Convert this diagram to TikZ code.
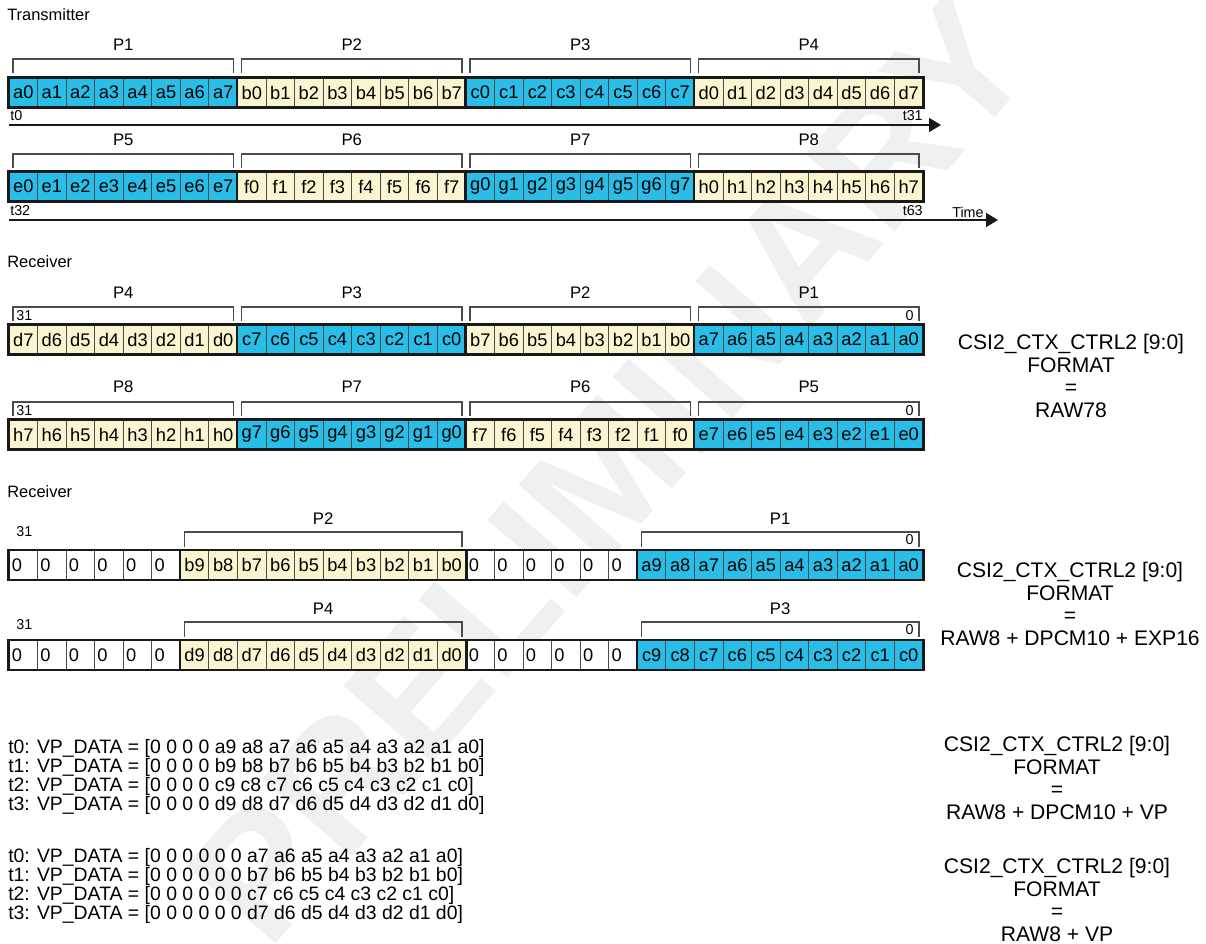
\documentclass[tikz,border=0pt]{standalone}
\usepackage{fontspec}
\setmainfont{Liberation Sans}
\usetikzlibrary{arrows.meta}

\definecolor{pixblue}{RGB}{41,190,232}
\definecolor{pixcream}{RGB}{250,245,208}
\newcommand{\cellw}{28.5625}

\begin{document}
\begin{tikzpicture}[
  x=0.025cm,
  y=-0.025cm,
  cell/.style={
    draw=black!70,
    line width=0.7pt,
    minimum width=0.714cm,
    minimum height=0.725cm,
    inner sep=0pt,
    font=\fontsize{13}{15}\selectfont
  },
  zerocell/.style={cell, fill=white, text width=0.574cm, inner xsep=0.07cm, align=left},
  grp/.style={draw=black!90, line width=1.9pt},
  brk/.style={draw=black!70, line width=0.8pt},
  plbl/.style={font=\fontsize{11.9}{14}\selectfont, inner sep=0pt},
  idx/.style={font=\fontsize{10.2}{12}\selectfont, inner sep=0pt},
  hdr/.style={font=\fontsize{11.7}{14}\selectfont, anchor=west, inner sep=0pt},
  fmt/.style={font=\fontsize{15}{16}\selectfont, align=center, inner sep=0pt},
  vpdata/.style={font=\fontsize{13.8}{13.3}\selectfont, align=left, anchor=west, inner sep=0pt},
  timeaxis/.style={draw=black!90, line width=1pt, -{Triangle[length=8.5pt, width=10pt]}}
]
\useasboundingbox (0,0) rectangle (1206,944);

% watermark
\node[rotate=49, text=black!6, font=\fontsize{122}{122}\bfseries\selectfont] (wm) at (610,470) {PRELIMINARY};

% transmitter
\node[hdr] (txhdr) at (7,15) {Transmitter};
\foreach \l/\c/\p [count=\k from 0] in {a/pixblue/1,b/pixcream/2,c/pixblue/3,d/pixcream/4}{
  \foreach \b in {0,...,7}
    \node[cell, fill=\c] (tx\l\b) at ({9+(8*\k+\b+0.5)*\cellw},92.5) {\l\b};
  \draw[grp] (tx\l0.north west) rectangle (tx\l7.south east);
  \draw[brk] ({9+8*\k*\cellw+4},73) -- ++(0,-14) -- ({9+(8*\k+8)*\cellw-4},59) -- ++(0,14);
  \node[plbl] (txp\p) at ({9+(8*\k+4)*\cellw},45) {P\p};
}
\foreach \l/\c/\p [count=\k from 0] in {e/pixblue/5,f/pixcream/6,g/pixblue/7,h/pixcream/8}{
  \foreach \b in {0,...,7}
    \node[cell, fill=\c] (tx\l\b) at ({9+(8*\k+\b+0.5)*\cellw},186.5) {\l\b};
  \draw[grp] (tx\l0.north west) rectangle (tx\l7.south east);
  \draw[brk] ({9+8*\k*\cellw+4},168) -- ++(0,-14) -- ({9+(8*\k+8)*\cellw-4},154) -- ++(0,14);
  \node[plbl] (txp\p) at ({9+(8*\k+4)*\cellw},140) {P\p};
}
\coordinate (ax1a) at (9,125);
\coordinate (ax1b) at (941,125);
\draw[timeaxis] (ax1a) -- (ax1b);
\node[idx, anchor=west] (t0) at (10,116) {t0};
\node[idx, anchor=east] (t31) at (923,116) {t31};
\coordinate (ax2a) at (9,220);
\coordinate (ax2b) at (998,220);
\draw[timeaxis] (ax2a) -- (ax2b);
\node[idx, anchor=west] (t32) at (10,211) {t32};
\node[idx, anchor=east] (t63) at (923,211) {t63};
\node[idx, anchor=west] (time) at (952,212) {Time};

% receiver, RAW78
\node[hdr] (rxhdr) at (7,262) {Receiver};
\foreach \l/\c/\p [count=\k from 0] in {d/pixcream/4,c/pixblue/3,b/pixcream/2,a/pixblue/1}{
  \foreach \b in {0,...,7}
    \node[cell, fill=\c] (ra\l\b) at ({9+(8*\k+7-\b+0.5)*\cellw},339.5) {\l\b};
  \draw[grp] (ra\l7.north west) rectangle (ra\l0.south east);
  \draw[brk] ({9+8*\k*\cellw+4},321) -- ++(0,-14) -- ({9+(8*\k+8)*\cellw-4},307) -- ++(0,14);
  \node[plbl] (rap\p) at ({9+(8*\k+4)*\cellw},293) {P\p};
}
\foreach \l/\c/\p [count=\k from 0] in {h/pixcream/8,g/pixblue/7,f/pixcream/6,e/pixblue/5}{
  \foreach \b in {0,...,7}
    \node[cell, fill=\c] (ra\l\b) at ({9+(8*\k+7-\b+0.5)*\cellw},434.5) {\l\b};
  \draw[grp] (ra\l7.north west) rectangle (ra\l0.south east);
  \draw[brk] ({9+8*\k*\cellw+4},416) -- ++(0,-14) -- ({9+(8*\k+8)*\cellw-4},402) -- ++(0,14);
  \node[plbl] (rap\p) at ({9+(8*\k+4)*\cellw},387) {P\p};
}
\node[idx, anchor=west] (ra31a) at (16,316) {31};
\node[idx, anchor=east] (ra0a) at (914,316) {0};
\node[idx, anchor=west] (ra31b) at (16,411) {31};
\node[idx, anchor=east] (ra0b) at (914,411) {0};
\node[fmt] (fmt1) at (1071,376) {CSI2\_CTX\_CTRL2 [9:0]\\FORMAT\\=\\RAW78};

% receiver, RAW8 + DPCM10 + EXP16
\node[hdr] (rxhdr2) at (7,492) {Receiver};
\foreach \row/\yy in {1/565,2/655}{
  \foreach \z in {0,...,5}{
    \node[zerocell] (rb\row z\z) at ({9+(\z+0.5)*\cellw},\yy) {0};
    \node[zerocell] (rb\row y\z) at ({9+(16+\z+0.5)*\cellw},\yy) {0};
  }
  \draw[grp] (rb\row z0.north west) rectangle (rb\row z5.south east);
  \draw[grp] (rb\row y0.north west) rectangle (rb\row y5.south east);
}
\foreach \l/\c/\p/\s/\yy in {b/pixcream/2/6/565,a/pixblue/1/22/565,d/pixcream/4/6/655,c/pixblue/3/22/655}{
  \foreach \b in {0,...,9}
    \node[cell, fill=\c] (rb\l\b) at ({9+(\s+9-\b+0.5)*\cellw},\yy) {\l\b};
  \draw[grp] (rb\l9.north west) rectangle (rb\l0.south east);
  \draw[brk] ({9+\s*\cellw+4},\yy-18) -- ++(0,-15) -- ({9+(\s+10)*\cellw-4},\yy-33) -- ++(0,15);
  \node[plbl] (rbp\p) at ({9+(\s+5)*\cellw},\yy-46) {P\p};
}
\node[idx, anchor=west] (rb31a) at (16,532) {31};
\node[idx, anchor=east] (rb0a) at (914,540) {0};
\node[idx, anchor=west] (rb31b) at (16,625) {31};
\node[idx, anchor=east] (rb0b) at (914,630) {0};
\node[fmt] (fmt2) at (1070,604) {CSI2\_CTX\_CTRL2 [9:0]\\FORMAT\\=\\RAW8 + DPCM10 + EXP16};

% VP data
\node[vpdata] (vp1) at (8,777) {t0: VP\_DATA = [0 0 0 0 a9 a8 a7 a6 a5 a4 a3 a2 a1 a0]\\
t1: VP\_DATA = [0 0 0 0 b9 b8 b7 b6 b5 b4 b3 b2 b1 b0]\\
t2: VP\_DATA = [0 0 0 0 c9 c8 c7 c6 c5 c4 c3 c2 c1 c0]\\
t3: VP\_DATA = [0 0 0 0 d9 d8 d7 d6 d5 d4 d3 d2 d1 d0]};
\node[vpdata] (vp2) at (8,886) {t0: VP\_DATA = [0 0 0 0 0 0 a7 a6 a5 a4 a3 a2 a1 a0]\\
t1: VP\_DATA = [0 0 0 0 0 0 b7 b6 b5 b4 b3 b2 b1 b0]\\
t2: VP\_DATA = [0 0 0 0 0 0 c7 c6 c5 c4 c3 c2 c1 c0]\\
t3: VP\_DATA = [0 0 0 0 0 0 d7 d6 d5 d4 d3 d2 d1 d0]};
\node[fmt] (fmt3) at (1057,778) {CSI2\_CTX\_CTRL2 [9:0]\\FORMAT\\=\\RAW8 + DPCM10 + VP};
\node[fmt] (fmt4) at (1057,900) {CSI2\_CTX\_CTRL2 [9:0]\\FORMAT\\=\\RAW8 + VP};
\end{tikzpicture}
\end{document}
